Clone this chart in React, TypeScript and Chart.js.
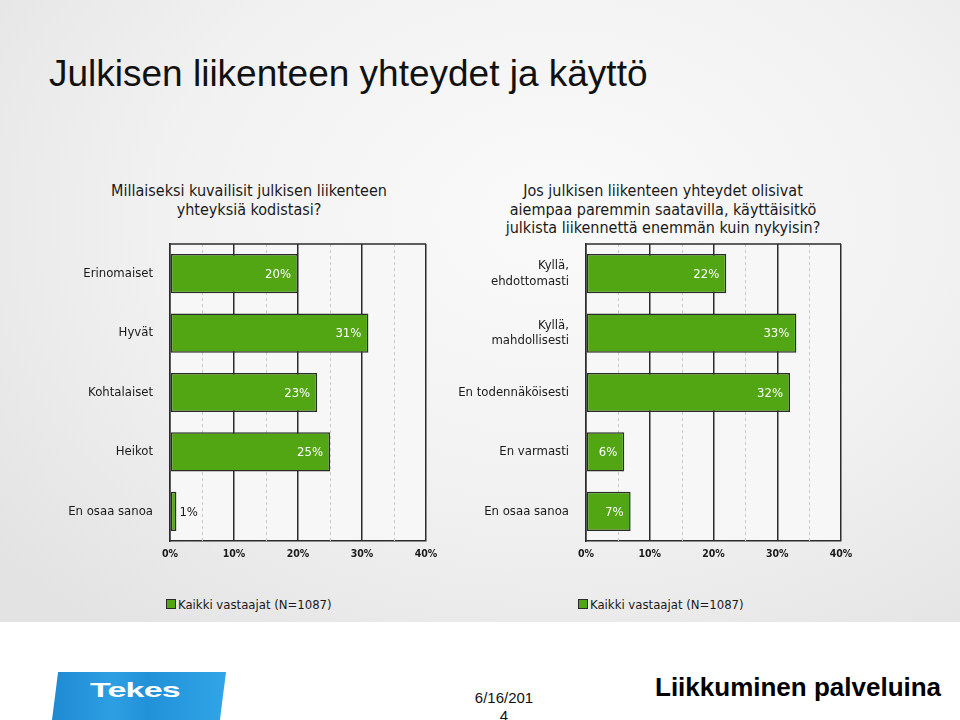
import React, { useEffect, useRef } from "react";
import { Chart, registerables } from "chart.js";

Chart.register(...registerables);

const pageTitle = "Julkisen liikenteen yhteydet ja käyttö";
const leftQuestion = ["Millaiseksi kuvailisit julkisen liikenteen", "yhteyksiä kodistasi?"];
const rightQuestion = [
  "Jos julkisen liikenteen yhteydet olisivat",
  "aiempaa paremmin saatavilla, käyttäisitkö",
  "julkista liikennettä enemmän kuin nykyisin?",
];
const leftCategories: (string | string[])[] = ["Erinomaiset", "Hyvät", "Kohtalaiset", "Heikot", "En osaa sanoa"];
const leftValues = [20, 31, 23, 25, 1];
const rightCategories: (string | string[])[] = [
  ["Kyllä,", "ehdottomasti"],
  ["Kyllä,", "mahdollisesti"],
  "En todennäköisesti",
  "En varmasti",
  "En osaa sanoa",
];
const rightValues = [22, 33, 32, 6, 7];
const seriesLabel = "Kaikki vastaajat (N=1087)";
const axisMax = 40;
const majorStep = 10;
const minorTicks = [5, 15, 25, 35];
const footerTitle = "Liikkuminen palveluina";
const footerDate = ["6/16/201", "4"];
const logoText = "Tekes";

const FONT = "'DejaVu Sans Condensed', 'DejaVu Sans', sans-serif";
const GREEN = "#52a614";
const DARK = "#2b2b2b";

const plotDecor = {
  id: "plotDecor",
  beforeDraw(chart: any) {
    const { ctx, chartArea: a } = chart;
    ctx.save();
    ctx.fillStyle = "#f7f7f7";
    ctx.fillRect(a.left, a.top, a.right - a.left, a.bottom - a.top);
    ctx.restore();
  },
  beforeDatasetsDraw(chart: any) {
    const { ctx, chartArea: a } = chart;
    const xs = chart.scales.x;
    ctx.save();
    ctx.strokeStyle = "#c9c9c9";
    ctx.lineWidth = 1;
    ctx.setLineDash([3, 3]);
    minorTicks.forEach((v) => {
      const x = Math.round(xs.getPixelForValue(v)) + 0.5;
      ctx.beginPath();
      ctx.moveTo(x, a.top);
      ctx.lineTo(x, a.bottom);
      ctx.stroke();
    });
    ctx.restore();
  },
  afterDatasetsDraw(chart: any) {
    const { ctx, chartArea: a } = chart;
    const meta = chart.getDatasetMeta(0);
    const data = chart.data.datasets[0].data as number[];
    ctx.save();
    ctx.font = `13px ${FONT}`;
    ctx.textBaseline = "middle";
    meta.data.forEach((bar: any, i: number) => {
      const v = data[i];
      const label = `${v}%`;
      if (v >= 5) {
        ctx.fillStyle = "#ffffff";
        ctx.textAlign = "right";
        ctx.fillText(label, bar.x - 7, bar.y + 1);
      } else {
        ctx.fillStyle = "#1a1a1a";
        ctx.textAlign = "left";
        ctx.fillText(label, bar.x + 3, bar.y + 1);
      }
    });
    ctx.strokeStyle = DARK;
    ctx.lineWidth = 1.5;
    ctx.beginPath();
    ctx.moveTo(a.left, a.top);
    ctx.lineTo(a.right, a.top);
    ctx.stroke();
    ctx.restore();
  },
};

function BarChart({
  categories,
  values,
  width,
  yWidth,
  padRight,
}: {
  categories: (string | string[])[];
  values: number[];
  width: number;
  yWidth: number;
  padRight: number;
}) {
  const ref = useRef<HTMLCanvasElement>(null);
  useEffect(() => {
    if (!ref.current) return;
    const chart = new Chart(ref.current, {
      type: "bar",
      data: {
        labels: categories as any,
        datasets: [
          {
            label: seriesLabel,
            data: values,
            backgroundColor: GREEN,
            borderColor: DARK,
            borderWidth: 1.5,
            borderSkipped: false,
            barPercentage: 0.66,
            categoryPercentage: 1,
          },
        ],
      },
      options: {
        indexAxis: "y",
        animation: false,
        responsive: false,
        layout: { padding: { left: 0, right: padRight, top: 4, bottom: 0 } },
        plugins: {
          legend: { display: false },
          tooltip: { enabled: false },
          title: { display: false },
        },
        scales: {
          x: {
            min: 0,
            max: axisMax,
            ticks: {
              stepSize: majorStep,
              padding: 7,
              color: "#1a1a1a",
              font: { family: FONT, size: 10.5, weight: "bold" },
              callback: (v: any) => `${v}%`,
            },
            grid: { color: DARK, lineWidth: 1.5, drawTicks: false },
            border: { display: true, color: DARK, width: 1.5 },
            afterFit: (s: any) => {
              s.height = 29;
              s.paddingLeft = 0;
              s.paddingRight = 0;
            },
          },
          y: {
            ticks: {
              padding: 17,
              color: "#1a1a1a",
              font: { family: FONT, size: 13, lineHeight: 1.2 },
            },
            grid: { display: false, drawTicks: false },
            border: { display: true, color: DARK, width: 1.5 },
            afterFit: (s: any) => {
              s.width = yWidth;
              s.paddingTop = 0;
              s.paddingBottom = 0;
            },
          },
        },
      } as any,
      plugins: [plotDecor],
    });
    return () => chart.destroy();
  }, []);
  return <canvas ref={ref} width={width} height={330} style={{ display: "block", width, height: 330 }} />;
}

const abs = (o: React.CSSProperties): React.CSSProperties => ({ position: "absolute", ...o });

export default function App() {
  return (
    <div
      style={abs({
        left: 0,
        top: 0,
        width: 960,
        height: 720,
        background: "#ffffff",
        overflow: "hidden",
      })}
    >
      <div
        style={abs({
          left: 0,
          top: 0,
          width: 960,
          height: 622,
          background:
            "radial-gradient(ellipse 75% 85% at 58% 35%, #fafafa 0%, #f1f1f1 55%, #e3e3e3 100%)",
        })}
      />
      <div
        style={abs({
          left: 49,
          top: 55,
          fontFamily: "'Liberation Sans', Arial, sans-serif",
          fontSize: 37,
          lineHeight: "37px",
          color: "#111",
          whiteSpace: "nowrap",
        })}
      >
        {pageTitle}
      </div>
      <div
        style={abs({
          left: 49,
          top: 182,
          width: 400,
          textAlign: "center",
          fontFamily: FONT,
          fontSize: 16,
          lineHeight: "18.5px",
          color: "#1a1a1a",
        })}
      >
        {leftQuestion.map((l, i) => (
          <div key={i}>{l}</div>
        ))}
      </div>
      <div
        style={abs({
          left: 463,
          top: 182,
          width: 400,
          textAlign: "center",
          fontFamily: FONT,
          fontSize: 16,
          lineHeight: "18.5px",
          color: "#1a1a1a",
        })}
      >
        {rightQuestion.map((l, i) => (
          <div key={i}>{l}</div>
        ))}
      </div>
      <div style={abs({ left: 0, top: 240 })}>
        <BarChart categories={leftCategories} values={leftValues} width={480} yWidth={170} padRight={54} />
      </div>
      <div style={abs({ left: 440, top: 240 })}>
        <BarChart categories={rightCategories} values={rightValues} width={520} yWidth={146} padRight={119} />
      </div>
      {[166, 578].map((x, i) => (
        <div key={i} style={abs({ left: x, top: 595, height: 18, display: "flex", alignItems: "center" })}>
          <div style={{ width: 8, height: 8, background: GREEN, border: `1px solid ${DARK}`, marginRight: 2 }} />
          <div style={{ fontFamily: FONT, fontSize: 13, color: "#1a1a1a", whiteSpace: "nowrap" }}>
            {seriesLabel}
          </div>
        </div>
      ))}
      <div
        style={abs({
          left: 52,
          top: 672,
          width: 174,
          height: 48,
          background: "linear-gradient(90deg, #1e8ad2 0%, #2e9fe3 35%, #2191d8 55%, #31a5e8 100%)",
          clipPath: "polygon(3.5% 0, 100% 0, 96.5% 100%, 0 100%)",
        })}
      >
        <div
          style={abs({
            left: 38,
            top: 6,
            fontFamily: "'Liberation Sans', Arial, sans-serif",
            fontWeight: "bold",
            fontSize: 21,
            lineHeight: "24px",
            color: "#ffffff",
            transform: "scaleX(1.62)",
            transformOrigin: "left center",
            letterSpacing: -0.5,
          })}
        >
          {logoText}
        </div>
      </div>
      <div
        style={abs({
          left: 454,
          top: 689,
          width: 100,
          textAlign: "center",
          fontFamily: "'Liberation Sans', Arial, sans-serif",
          fontSize: 15,
          lineHeight: "18px",
          color: "#111",
        })}
      >
        {footerDate.map((l, i) => (
          <div key={i}>{l}</div>
        ))}
      </div>
      <div
        style={abs({
          left: 655,
          top: 674,
          fontFamily: "'Liberation Sans', Arial, sans-serif",
          fontWeight: "bold",
          fontSize: 26,
          lineHeight: "26px",
          color: "#000",
          whiteSpace: "nowrap",
        })}
      >
        {footerTitle}
      </div>
    </div>
  );
}
